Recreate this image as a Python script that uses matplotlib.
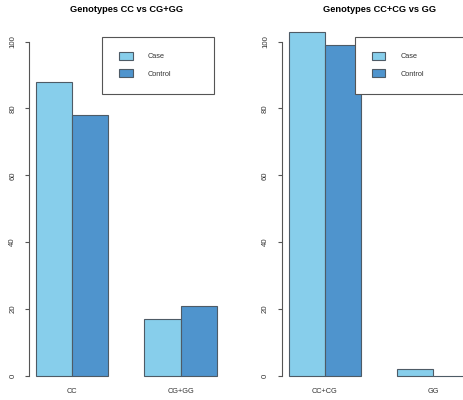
import numpy as np
import matplotlib
matplotlib.use("Agg")
import matplotlib.pyplot as plt
from matplotlib.patches import Rectangle, Patch

plt.rcParams["font.family"] = ["Liberation Sans", "DejaVu Sans"]

# genotype counts per model
groups = ["Case", "Control"]
dominant_labels = ["CC", "CG+GG"]
dominant_case = [88, 17]
dominant_control = [78, 21]
recessive_labels = ["CC+CG", "GG"]
recessive_case = [103, 2]
recessive_control = [99, 0]

titles = ["Genotypes CC vs CG+GG", "Genotypes CC+CG vs GG"]
colors = ["#87CEEB", "#4F94CD"]
edge = "#4E5B66"
yticks = [0, 20, 40, 60, 80, 100]

W, H = 464, 400
fig = plt.figure(figsize=(W / 100, H / 100), dpi=100)

panel_left = [28.8, 281.5]
panel_w = 195.2
top, bottom = 28.3, 389.0


def draw_panel(ax, labels, case, control, title):
    # R-style beside barplot: bars of width 1, one unit gap before each group
    x_case = np.array([1.5, 4.5])
    ax.bar(x_case, case, width=1, color=colors[0], edgecolor=edge, linewidth=0.8)
    ax.bar(x_case + 1, control, width=1, color=colors[1], edgecolor=edge, linewidth=0.8)
    ax.set_xlim(0.8, 6.2)
    ax.set_ylim(-4, 104)

    for s in ["top", "right", "bottom"]:
        ax.spines[s].set_visible(False)
    ax.spines["left"].set_bounds(0, 100)
    ax.spines["left"].set_color("#555555")
    ax.spines["left"].set_linewidth(0.8)

    ax.set_yticks(yticks)
    ax.set_yticklabels([str(t) for t in yticks], rotation=90, va="center")
    ax.tick_params(axis="y", length=3, width=0.8, color="#555555",
                   labelsize=5.6, pad=6, labelcolor="#333333")
    ax.set_xticks(x_case + 0.5)
    ax.set_xticklabels(labels)
    ax.tick_params(axis="x", length=0, labelsize=5.3, pad=-1, labelcolor="#333333")

    ax.set_title(title, fontsize=6.7, fontweight="bold", pad=12)

    # legend box
    box = Rectangle((2.83, 84.3), 3.08, 17.0, facecolor="white",
                    edgecolor="#555555", linewidth=0.8, zorder=5)
    ax.add_patch(box)
    handles = [Patch(facecolor=c, edgecolor=edge, linewidth=0.8) for c in colors]
    leg = ax.legend(handles, groups, loc="upper left",
                    bbox_to_anchor=(3.30, 97.0), bbox_transform=ax.transData,
                    frameon=False, borderpad=0, borderaxespad=0,
                    fontsize=5.3, handlelength=1.85, handleheight=1.4,
                    handletextpad=2.05, labelspacing=1.15)
    leg.set_zorder(6)
    for t in leg.get_texts():
        t.set_color("#333333")


data = [(dominant_labels, dominant_case, dominant_control),
        (recessive_labels, recessive_case, recessive_control)]
for i in range(2):
    ax = fig.add_axes([panel_left[i] / W, (H - bottom) / H,
                       panel_w / W, (bottom - top) / H])
    labels, case, control = data[i]
    draw_panel(ax, labels, case, control, titles[i])

fig.savefig("out.png", dpi=100)
